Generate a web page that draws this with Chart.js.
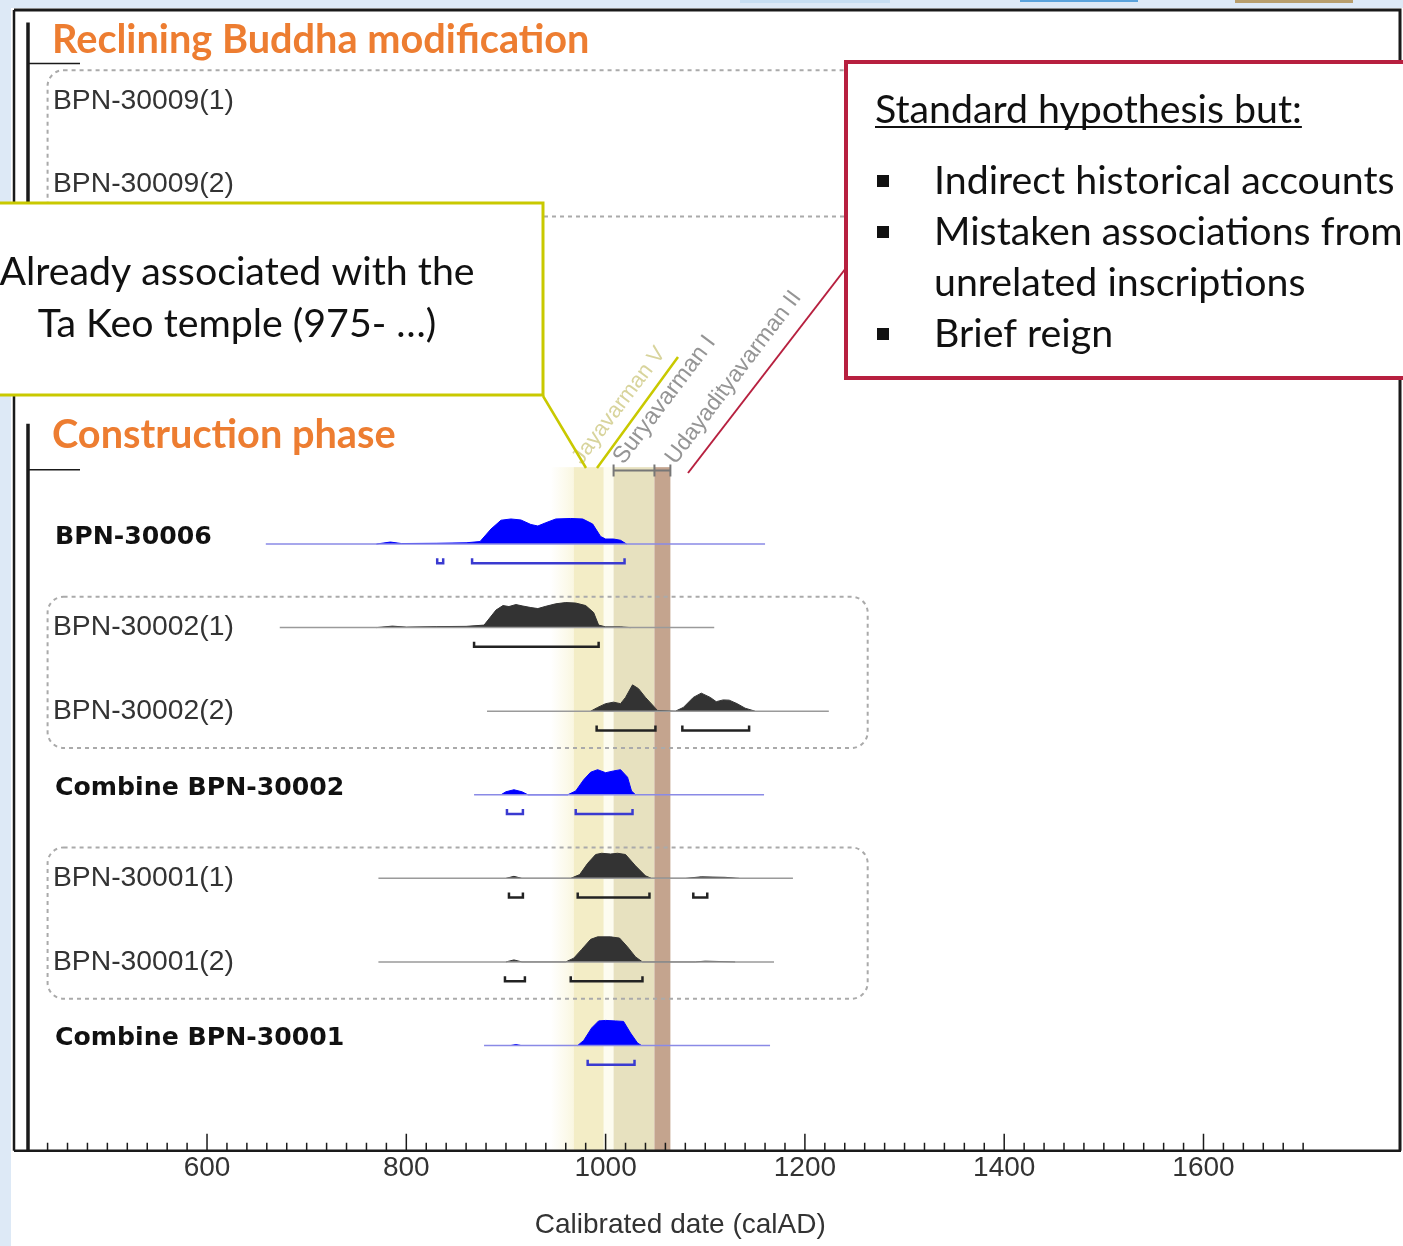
<!DOCTYPE html>
<html>
<head>
<meta charset="utf-8">
<script src="https://cdn.jsdelivr.net/npm/chart.js@4.4.0/dist/chart.umd.min.js"></script>
<style>
  html, body { margin: 0; padding: 0; background: #fff; }
  #wrap { width: 1403px; height: 1246px; }
</style>
</head>
<body>
<div id="wrap"><canvas id="chart" width="1403" height="1246"></canvas></div>
<script>
// Filas del gráfico (etiqueta, posición en unidades de fila, negrita = azul)
const rowLabels = ['BPN-30009(1)', 'BPN-30009(2)', 'BPN-30006', 'BPN-30002(1)', 'BPN-30002(2)',
  'Combine BPN-30002', 'BPN-30001(1)', 'BPN-30001(2)', 'Combine BPN-30001'];
const rowPos = [0, 1, 5.3, 6.3, 7.3, 8.3, 9.3, 10.3, 11.3];
const rowBold = [false, false, true, false, false, true, false, false, true];

// Ticks del eje X
const xTicks = [600, 800, 1000, 1200, 1400, 1600];

// Distribuciones de probabilidad [año, densidad relativa]
const curve30006 = [[770, 0], [784, 0.08], [795, 0.02], [830, 0.03], [860, 0.05], [874, 0.1], [885, 0.6], [895, 0.95],
  [905, 1.0], [915, 0.96], [925, 0.78], [932, 0.72], [940, 0.85], [950, 1.0], [965, 1.02], [977, 1.0], [987, 0.8],
  [995, 0.3], [1000, 0.2], [1008, 0.2], [1015, 0.15], [1021, 0]];
const curve30002a = [[770, 0], [786, 0.06], [800, 0.02], [830, 0.04], [860, 0.05], [878, 0.1], [890, 0.7], [897, 0.88],
  [903, 0.84], [910, 0.92], [917, 0.86], [925, 0.8], [932, 0.76], [940, 0.85], [950, 0.95], [960, 1.0], [970, 0.98],
  [980, 0.88], [988, 0.6], [993, 0.1], [1000, 0.03], [1015, 0.03], [1025, 0]];
const curve30002b = [[985, 0], [992, 0.15], [1000, 0.3], [1008, 0.36], [1015, 0.3], [1020, 0.55], [1027, 1.05], [1033, 0.9],
  [1040, 0.55], [1047, 0.25], [1052, 0.03], [1070, 0], [1078, 0.15], [1088, 0.55], [1096, 0.72], [1105, 0.55],
  [1111, 0.38], [1118, 0.45], [1124, 0.44], [1132, 0.3], [1140, 0.12], [1150, 0]];
const curveComb30002 = [[895, 0], [900, 0.12], [908, 0.2], [916, 0.12], [922, 0], [962, 0], [970, 0.15], [978, 0.6],
  [985, 0.9], [992, 1.0], [1000, 0.88], [1008, 0.95], [1015, 1.0], [1022, 0.7], [1026, 0.15], [1030, 0]];
const curve30001a = [[900, 0], [908, 0.08], [916, 0], [965, 0], [974, 0.15], [982, 0.6], [990, 0.95], [996, 1.0],
  [1005, 0.97], [1012, 1.0], [1020, 0.95], [1030, 0.5], [1040, 0.1], [1046, 0], [1080, 0], [1096, 0.06], [1120, 0.04], [1134, 0]];
const curve30001b = [[900, 0], [908, 0.08], [916, 0], [960, 0], [968, 0.15], [976, 0.5], [985, 0.9], [992, 1.0],
  [1005, 1.0], [1014, 0.95], [1022, 0.6], [1030, 0.2], [1037, 0], [1090, 0], [1100, 0.03], [1130, 0]];
const curveComb30001 = [[905, 0], [910, 0.04], [915, 0], [972, 0], [978, 0.2], [986, 0.7], [993, 0.98], [1000, 1.0],
  [1010, 0.98], [1018, 0.96], [1025, 0.5], [1032, 0.1], [1036, 0]];

// Extensión de la línea base de cada fila
const span30006 = [659, 1160];
const span30002a = [673, 1109];
const span30002b = [881, 1224];
const spanComb30002 = [868, 1159];
const span30001a = [772, 1188];
const span30001b = [772, 1169];
const spanComb30001 = [878, 1165];

// Intervalos (corchetes) de cada fila
const range30006 = [[831, 837], [866, 1019]];
const range30002a = [[868, 993]];
const range30002b = [[991, 1050], [1077, 1144]];
const rangeComb30002 = [[901, 917], [970, 1027]];
const range30001a = [[903, 917], [972, 1044], [1088, 1102]];
const range30001b = [[899, 919], [965, 1037]];
const rangeComb30001 = [[982, 1029]];

const curves = [null, null, curve30006, curve30002a, curve30002b, curveComb30002, curve30001a, curve30001b, curveComb30001];
const spans = [null, null, span30006, span30002a, span30002b, spanComb30002, span30001a, span30001b, spanComb30001];
const ranges = [null, null, range30006, range30002a, range30002b, rangeComb30002, range30001a, range30001b, rangeComb30001];

// Reinados
const reignNames = ['Jayavarman V', 'Suryavarman I', 'Udayadityavarman II'];
const reignStart = [968, 1008, 1049];
const reignEnd = [998, 1049, 1065];

// Grupos (cajas punteadas): índices de filas
const groups = [[0, 1], [3, 4], [6, 7]];

const PEAK = 0.3;
const datasets = [];

// Construir datasets por fila
rowLabels.forEach((label, i) => {
  if (!curves[i]) return;
  const pos = rowPos[i];
  const blue = rowBold[i];
  datasets.push({
    data: [{ x: spans[i][0], y: pos }, { x: spans[i][1], y: pos }],
    borderColor: blue ? '#8a8ae6' : '#9a9a9a',
    borderWidth: 1.5
  });
  datasets.push({
    data: curves[i].map(p => ({ x: p[0], y: pos - p[1] * PEAK })),
    borderColor: blue ? '#0000ff' : '#333333',
    backgroundColor: blue ? '#0000ff' : '#333333',
    borderWidth: 1,
    fill: { value: pos }
  });
  const br = [];
  const by = pos + 0.23;
  ranges[i].forEach(r => {
    br.push({ x: r[0], y: by - 0.06 }, { x: r[0], y: by }, { x: r[1], y: by }, { x: r[1], y: by - 0.06 }, { x: r[1], y: null });
  });
  datasets.push({
    data: br,
    borderColor: blue ? '#3a3ad0' : '#222',
    borderWidth: 2.5,
    spanGaps: false
  });
});

// Ajustar la fuente al ancho deseado
function fitFont(ctx, text, weight, family, width) {
  ctx.font = weight + ' 100px ' + family;
  const size = 100 * width / ctx.measureText(text).width;
  return weight + ' ' + size.toFixed(1) + 'px ' + family;
}

// Fondo, bandas de reinados, grupos y etiquetas
const backPlugin = {
  id: 'back',
  beforeDraw(chart) {
    const ctx = chart.ctx;
    ctx.save();
    ctx.fillStyle = '#fff';
    ctx.fillRect(0, 0, chart.width, chart.height);
    ctx.fillStyle = '#dde9f6';
    ctx.fillRect(0, 0, chart.width, 8);
    ctx.fillRect(0, 0, 11, chart.height);
    // restos de la imagen de la diapositiva arriba
    ctx.fillStyle = '#c7def2';
    ctx.fillRect(740, 0, 150, 3);
    ctx.fillStyle = '#5aa3dc';
    ctx.fillRect(1020, 0, 118, 2);
    ctx.fillStyle = '#b89e6c';
    ctx.fillRect(1235, 0, 118, 3);
    ctx.restore();
  },
  beforeDatasetsDraw(chart) {
    const ctx = chart.ctx;
    const x = chart.scales.x;
    const y = chart.scales.y;
    const ca = chart.chartArea;
    ctx.save();

    // Bandas verticales de los reinados
    const bandTop = y.getPixelForValue(4.38);
    const bandColors = ['#f3edc6', '#e7e1bf', '#c4a48e'];
    const fade = ctx.createLinearGradient(x.getPixelForValue(945), 0, x.getPixelForValue(968), 0);
    fade.addColorStop(0, 'rgba(250,247,225,0)');
    fade.addColorStop(1, 'rgba(250,247,225,1)');
    ctx.fillStyle = fade;
    ctx.fillRect(x.getPixelForValue(945), bandTop, x.getPixelForValue(968) - x.getPixelForValue(945), ca.bottom - bandTop);
    ctx.fillStyle = '#fdfcf0';
    ctx.fillRect(x.getPixelForValue(998), bandTop, x.getPixelForValue(1008) - x.getPixelForValue(998), ca.bottom - bandTop);
    reignNames.forEach((n, i) => {
      const a = x.getPixelForValue(reignStart[i]);
      const b = x.getPixelForValue(reignEnd[i]);
      ctx.fillStyle = bandColors[i];
      ctx.fillRect(a, bandTop, b - a, ca.bottom - bandTop);
    });

    // Marcadores de reinado
    const my = y.getPixelForValue(4.42);
    ctx.strokeStyle = '#777';
    ctx.lineWidth = 2;
    ctx.beginPath();
    ctx.moveTo(x.getPixelForValue(reignStart[1]), my);
    ctx.lineTo(x.getPixelForValue(reignEnd[2]), my);
    [reignStart[1], reignEnd[1], reignEnd[2]].forEach(v => {
      ctx.moveTo(x.getPixelForValue(v), my - 6);
      ctx.lineTo(x.getPixelForValue(v), my + 6);
    });
    ctx.stroke();

    // Nombres de reyes en diagonal
    const nameLen = [140, 154, 210];
    const nameOff = [8, 10, 21];
    const nameCol = ['#d8d49c', '#959595', '#959595'];
    reignNames.forEach((n, i) => {
      ctx.save();
      ctx.translate(x.getPixelForValue(reignStart[i]) + nameOff[i], bandTop - 2);
      ctx.rotate(-53 * Math.PI / 180);
      ctx.font = fitFont(ctx, n, 'normal', '"Liberation Sans", Arial', nameLen[i]);
      ctx.fillStyle = nameCol[i];
      ctx.textBaseline = 'alphabetic';
      ctx.fillText(n, 0, 0);
      ctx.restore();
    });

    // Cajas punteadas de los grupos
    ctx.strokeStyle = '#aaa';
    ctx.lineWidth = 2;
    ctx.setLineDash([4, 4]);
    groups.forEach(g => {
      const l = x.getPixelForValue(440);
      const r = x.getPixelForValue(1263);
      const t = y.getPixelForValue(rowPos[g[0]] - 0.37);
      const b = y.getPixelForValue(rowPos[g[1]] + (g[0] === 0 ? 0.38 : 0.44));
      ctx.beginPath();
      ctx.roundRect(l, t, r - l, b - t, 16);
      ctx.stroke();
    });
    ctx.setLineDash([]);

    // Etiquetas de filas
    ctx.textBaseline = 'middle';
    const regFont = fitFont(ctx, 'BPN-30002(1)', 'normal', '"Liberation Sans", Arial', 181);
    const boldFont = fitFont(ctx, 'Combine BPN-30002', 'bold', '"DejaVu Sans", Verdana', 290);
    rowLabels.forEach((lab, i) => {
      ctx.font = rowBold[i] ? boldFont : regFont;
      ctx.fillStyle = rowBold[i] ? '#111' : '#333';
      const ly = y.getPixelForValue(rowPos[i] - (rowBold[i] ? 0.08 : 0));
      ctx.fillText(lab, ca.left + (rowBold[i] ? 40 : 38), ly);
    });

    // Títulos de fases
    const titleFont = fitFont(ctx, 'Reclining Buddha modification', 'bold', 'Lato, "Open Sans"', 538);
    ctx.font = titleFont;
    ctx.fillStyle = '#ed7d31';
    ctx.fillText('Reclining Buddha modification', ca.left + 37, 40);
    ctx.fillText('Construction phase', ca.left + 37, 435);
    ctx.restore();
  },
  afterDatasetsDraw(chart) {
    const ctx = chart.ctx;
    const x = chart.scales.x;
    const y = chart.scales.y;
    const ca = chart.chartArea;
    ctx.save();
    ctx.strokeStyle = '#1a1a1a';
    // Marco
    ctx.lineWidth = 3;
    ctx.beginPath();
    ctx.moveTo(ca.left - 1, ca.top);
    ctx.lineTo(ca.right, ca.top);
    ctx.lineTo(ca.right, ca.bottom);
    ctx.stroke();
    ctx.lineWidth = 2.5;
    ctx.beginPath();
    ctx.moveTo(ca.left - 1, ca.top);
    ctx.lineTo(ca.left - 1, ca.bottom);
    ctx.moveTo(ca.left - 1, ca.bottom);
    ctx.lineTo(ca.right + 1, ca.bottom);
    ctx.stroke();
    // Corchetes de fases a la izquierda
    ctx.lineWidth = 3.5;
    ctx.beginPath();
    ctx.moveTo(ca.left + 13, y.getPixelForValue(-0.94));
    ctx.lineTo(ca.left + 13, y.getPixelForValue(1.4));
    ctx.moveTo(ca.left + 13, y.getPixelForValue(3.86));
    ctx.lineTo(ca.left + 13, ca.bottom);
    ctx.stroke();
    ctx.lineWidth = 1.5;
    ctx.beginPath();
    ctx.moveTo(ca.left + 13, y.getPixelForValue(-0.45));
    ctx.lineTo(ca.left + 65, y.getPixelForValue(-0.45));
    ctx.moveTo(ca.left + 13, y.getPixelForValue(4.41));
    ctx.lineTo(ca.left + 65, y.getPixelForValue(4.41));
    ctx.stroke();
    // Marcas del eje X hacia arriba
    ctx.lineWidth = 1.5;
    ctx.beginPath();
    for (let v = 440; v <= 1700; v += 20) {
      const px = x.getPixelForValue(v);
      const len = xTicks.includes(v) ? 17 : 8;
      ctx.moveTo(px, ca.bottom);
      ctx.lineTo(px, ca.bottom - len);
    }
    ctx.stroke();
    ctx.restore();
  },
  afterDraw(chart) {
    const ctx = chart.ctx;
    ctx.save();
    // Caja amarilla
    ctx.fillStyle = '#fff';
    ctx.fillRect(-10, 203, 553, 192);
    ctx.strokeStyle = '#c9c900';
    ctx.lineWidth = 3;
    ctx.strokeRect(-10, 203, 553, 192);
    ctx.lineWidth = 2.5;
    ctx.beginPath();
    ctx.moveTo(543, 396);
    ctx.lineTo(586, 468);
    ctx.moveTo(597, 468);
    ctx.lineTo(678, 357);
    ctx.stroke();
    ctx.fillStyle = '#111';
    ctx.textAlign = 'center';
    ctx.textBaseline = 'middle';
    ctx.font = fitFont(ctx, 'Already associated with the', 'normal', 'Lato, "Open Sans"', 475);
    ctx.fillText('Already associated with the', 237, 272);
    ctx.fillText('Ta Keo temple (975- …)', 237, 324);

    // Caja roja
    ctx.fillStyle = '#fff';
    ctx.fillRect(846, 62, 570, 316);
    ctx.strokeStyle = '#b7203f';
    ctx.lineWidth = 4;
    ctx.strokeRect(846, 62, 570, 316);
    ctx.lineWidth = 2;
    ctx.beginPath();
    ctx.moveTo(846, 268);
    ctx.lineTo(688, 473);
    ctx.stroke();
    ctx.textAlign = 'left';
    ctx.fillStyle = '#111';
    ctx.font = fitFont(ctx, 'Indirect historical accounts', 'normal', 'Lato, "Open Sans"', 461);
    const head = 'Standard hypothesis but:';
    ctx.fillText(head, 875, 110);
    const hw = ctx.measureText(head).width;
    ctx.fillRect(875, 126, hw, 2);
    const bullets = [['Indirect historical accounts', 181, true], ['Mistaken associations from', 232, true],
      ['unrelated inscriptions', 283, false], ['Brief reign', 334, true]];
    bullets.forEach(b => {
      if (b[2]) ctx.fillRect(877, b[1] - 6, 12, 12);
      ctx.fillText(b[0], 934, b[1]);
    });
    ctx.restore();
  }
};

new Chart(document.getElementById('chart'), {
  type: 'scatter',
  data: { datasets: datasets },
  options: {
    responsive: false,
    devicePixelRatio: 1,
    animation: false,
    showLine: true,
    datasets: { scatter: { showLine: true, pointRadius: 0, pointHoverRadius: 0 } },
    layout: { padding: { left: 15, right: 3, top: 10, bottom: 1 } },
    plugins: { legend: { display: false }, tooltip: { enabled: false } },
    scales: {
      x: {
        type: 'linear',
        min: 407.3,
        max: 1797.2,
        afterBuildTicks: axis => { axis.ticks = xTicks.map(v => ({ value: v })); },
        grid: { display: false, drawTicks: false },
        border: { display: false },
        ticks: {
          padding: 1,
          color: '#333',
          font: { family: '"Liberation Sans", Arial', size: 28 },
          maxRotation: 0,
          callback: v => String(v)
        },
        title: {
          display: true,
          // espacios finales para desplazar el título un poco a la izquierda
          text: 'Calibrated date (calAD)       ',
          color: '#333',
          font: { family: '"Liberation Sans", Arial', size: 28 },
          padding: { top: 22, bottom: 3 }
        }
      },
      y: {
        type: 'linear',
        display: false,
        reverse: true,
        min: -1.09,
        max: 12.56
      }
    }
  },
  plugins: [backPlugin]
});
</script>
</body>
</html>
